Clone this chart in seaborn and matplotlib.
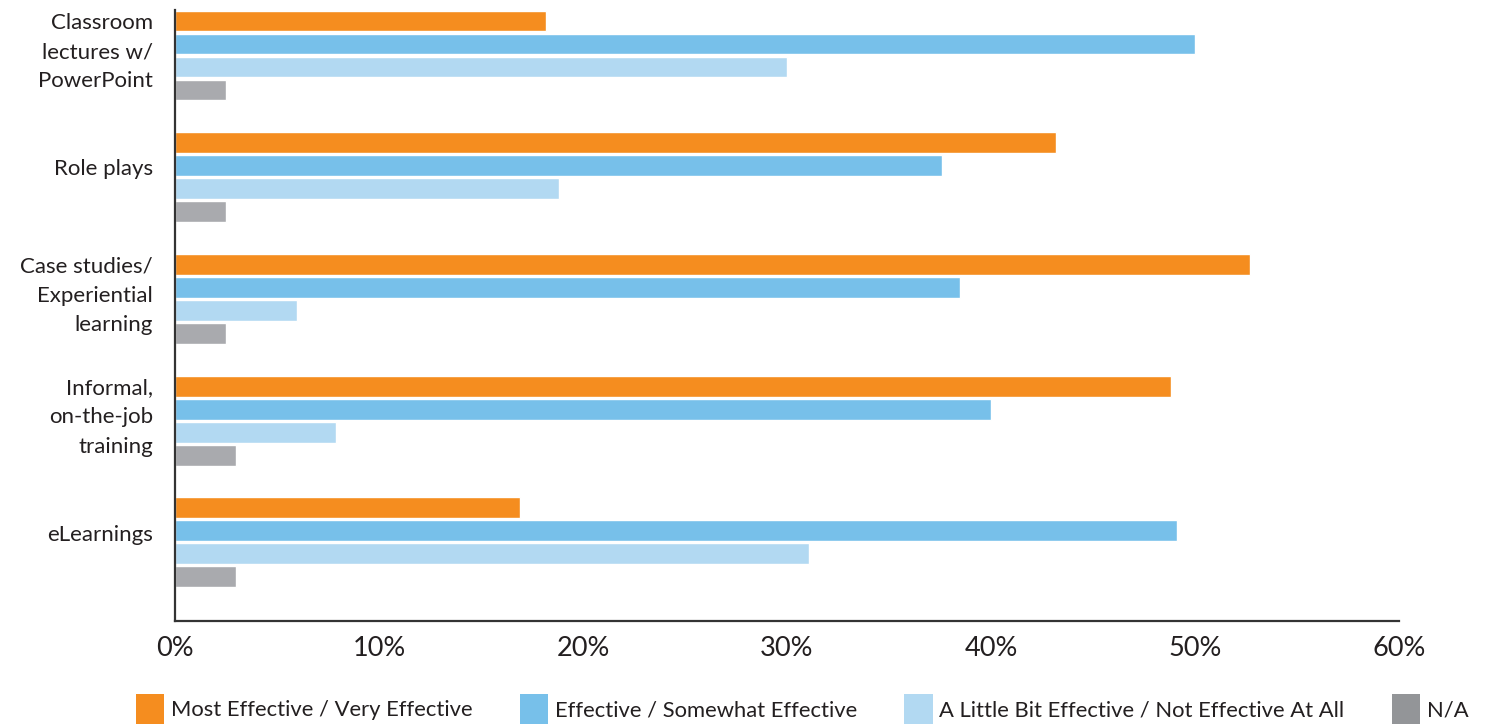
import matplotlib
matplotlib.use("Agg")
import matplotlib.pyplot as plt
import seaborn as sns
import pandas as pd
from matplotlib.patches import Patch

# Training methods and their ratings (percent of respondents)
methods = [
    "Classroom\nlectures w/\nPowerPoint",
    "Role plays",
    "Case studies/\nExperiential\nlearning",
    "Informal,\non-the-job\ntraining",
    "eLearnings",
]
ratings = [
    "Most Effective / Very Effective",
    "Effective / Somewhat Effective",
    "A Little Bit Effective / Not Effective At All",
    "N/A",
]
most_effective = [18.2, 43.2, 52.7, 48.8, 16.9]
effective = [50.0, 37.6, 38.5, 40.0, 49.1]
little_effective = [30.0, 18.8, 6.0, 7.9, 31.1]
not_applicable = [2.5, 2.5, 2.5, 3.0, 3.0]
x_ticks = [0, 10, 20, 30, 40, 50, 60]
x_tick_labels = ["0%", "10%", "20%", "30%", "40%", "50%", "60%"]

bar_colors = ["#F58D1F", "#77C0EA", "#B2D9F2", "#A9AAAE"]
legend_colors = ["#F58D1F", "#77C0EA", "#B2D9F2", "#939598"]

rows = []
for series, values in zip(ratings, [most_effective, effective, little_effective, not_applicable]):
    for m, v in zip(methods, values):
        rows.append({"method": m, "rating": series, "value": v})
df = pd.DataFrame(rows)

sns.set_theme(style="white")
plt.rcParams["font.family"] = ["Lato", "DejaVu Sans"]
text_color = "#231F20"

fig = plt.figure(figsize=(14.88, 7.28), dpi=100)
ax = fig.add_axes([175 / 1488, 1 - 621 / 728, (1399 - 175) / 1488, (621 - 10) / 728])

sns.barplot(
    data=df, y="method", x="value", hue="rating",
    order=methods, hue_order=ratings, palette=bar_colors,
    orient="h", width=0.756, gap=0.09, saturation=1,
    legend=False, ax=ax,
)

ax.set_xlim(0, 60)
ax.set_ylim(4.647, -0.374)
ax.set_xticks(x_ticks)
ax.set_xticklabels(x_tick_labels, fontsize=19.5, color=text_color)
# category labels sit a little above the centre of each bar group
ax.set_yticks([i - 0.08 for i in range(len(methods))])
ax.set_yticklabels(methods, fontsize=16, color=text_color, linespacing=1.57)
ax.set_xlabel("")
ax.set_ylabel("")

for side in ["top", "right"]:
    ax.spines[side].set_visible(False)
for side in ["left", "bottom"]:
    ax.spines[side].set_color("#333333")
    ax.spines[side].set_linewidth(1.6)
ax.tick_params(axis="x", direction="in", length=11, width=1.4, color="#333333", pad=11)
ax.tick_params(axis="y", length=0, pad=16)

handles = [Patch(facecolor=c, edgecolor="none") for c in legend_colors]
fig.legend(
    handles, ratings, loc="lower left", bbox_to_anchor=(116 / 1488, -0.022),
    ncol=4, frameon=False, handlelength=1.3, handleheight=1.75,
    handletextpad=0.3, columnspacing=2.15, labelcolor=text_color,
    prop={"size": 15.8},
)

fig.savefig("out.png", dpi=100)
